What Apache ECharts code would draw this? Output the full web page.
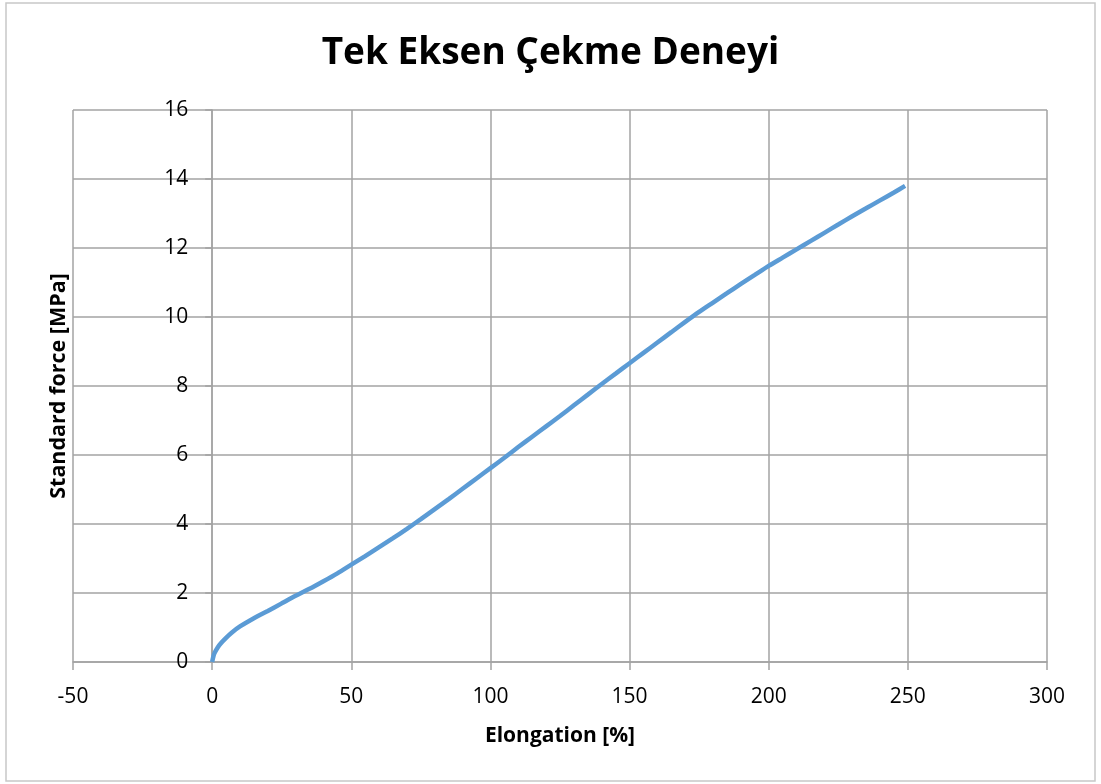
<!DOCTYPE html>
<html>
<head>
<meta charset="utf-8">
<title>Tek Eksen Çekme Deneyi</title>
<script src="https://cdn.jsdelivr.net/npm/echarts@6/dist/echarts.min.js"></script>
<style>
  html, body { margin: 0; padding: 0; background: #ffffff; }
  #chart { width: 1101px; height: 784px; }
</style>
</head>
<body>
<div id="chart"></div>
<script>
// Uniaxial tensile test: elongation [%] vs. standard force [MPa]
const elongation = [0, 0.5, 1, 2, 3, 5, 7, 10, 15, 20, 25, 30, 35, 40, 45, 50, 55, 60, 65, 70,
  75, 80, 85, 90, 95, 100, 105, 110, 115, 120, 125, 130, 135, 140, 145, 150, 155, 160, 165, 170,
  175, 180, 185, 190, 195, 200, 205, 210, 215, 220, 225, 230, 235, 240, 245, 249];
const force = [0, 0.18, 0.28, 0.42, 0.53, 0.7, 0.85, 1.03, 1.27, 1.48, 1.7, 1.92, 2.12, 2.34, 2.57, 2.82, 3.07, 3.33, 3.59, 3.86,
  4.14, 4.43, 4.72, 5.02, 5.32, 5.62, 5.92, 6.23, 6.53, 6.83, 7.13, 7.44, 7.75, 8.06, 8.36, 8.66, 8.96, 9.26, 9.56, 9.86,
  10.15, 10.42, 10.69, 10.96, 11.22, 11.48, 11.72, 11.96, 12.2, 12.44, 12.68, 12.92, 13.15, 13.38, 13.61, 13.8];

const titleText = 'Tek Eksen Çekme Deneyi';
const xName = 'Elongation [%]';
const yName = 'Standard force [MPa]';

const xRange = { min: -50, max: 300, step: 50 };
const yRange = { min: 0, max: 16, step: 2 };

const FONT = '"Open Sans", "Noto Sans", sans-serif';
const GRID_COLOR = '#a3a3a3';
const GRID = { left: 73, top: 110, width: 974, height: 552 };

// the vertical axis crosses the horizontal one at x = 0
const yAxisOffset = -GRID.width * (0 - xRange.min) / (xRange.max - xRange.min);

const points = elongation.map((x, i) => [x, force[i]]);

const chart = echarts.init(document.getElementById('chart'), null, { renderer: 'canvas' });

chart.setOption({
  backgroundColor: '#ffffff',
  animation: false,
  title: {
    text: titleText,
    left: 'center',
    top: 30,
    textStyle: { fontFamily: FONT, fontWeight: 'bold', fontSize: 37, color: '#000000' }
  },
  graphic: [{
    type: 'rect',
    shape: { x: 6, y: 3, width: 1089, height: 778 },
    style: { fill: 'none', stroke: '#c8c8c8', lineWidth: 1.5 },
    silent: true
  }],
  grid: {
    left: GRID.left, top: GRID.top, width: GRID.width, height: GRID.height,
    containLabel: false,
    outerBoundsMode: 'none'
  },
  xAxis: {
    type: 'value',
    min: xRange.min,
    max: xRange.max,
    interval: xRange.step,
    name: xName,
    nameLocation: 'middle',
    nameGap: 64,
    nameTextStyle: { fontFamily: FONT, fontWeight: 'bold', fontSize: 21, color: '#000000' },
    axisLine: { show: true, onZero: false, lineStyle: { color: GRID_COLOR, width: 1.5 } },
    axisTick: { show: true, length: 8, lineStyle: { color: GRID_COLOR, width: 1.5 } },
    axisLabel: { margin: 25, fontFamily: FONT, fontSize: 21, color: '#000000' },
    splitLine: { show: true, lineStyle: { color: GRID_COLOR, width: 1.5 } }
  },
  yAxis: {
    type: 'value',
    min: yRange.min,
    max: yRange.max,
    interval: yRange.step,
    offset: yAxisOffset,
    name: yName,
    nameLocation: 'middle',
    nameGap: 142,
    nameTextStyle: { fontFamily: FONT, fontWeight: 'bold', fontSize: 21.5, color: '#000000' },
    axisLine: { show: true, onZero: false, lineStyle: { color: GRID_COLOR, width: 1.5 } },
    axisTick: { show: true, length: 7, lineStyle: { color: GRID_COLOR, width: 1.5 } },
    axisLabel: { margin: 24, fontFamily: FONT, fontSize: 21, color: '#000000' },
    splitLine: { show: true, lineStyle: { color: GRID_COLOR, width: 1.5 } }
  },
  series: [{
    type: 'line',
    data: points,
    smooth: 0.25,
    showSymbol: false,
    lineStyle: { color: '#5b9bd5', width: 4.5 },
    itemStyle: { color: '#5b9bd5' }
  }]
});
</script>
</body>
</html>
